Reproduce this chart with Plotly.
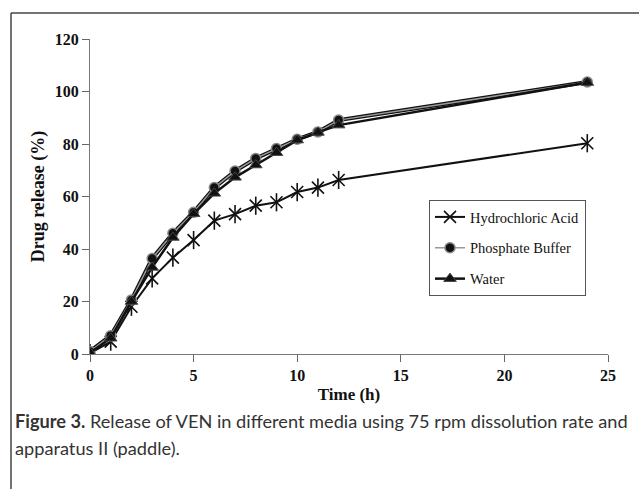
import plotly.graph_objects as go

time_h = [0, 1, 2, 3, 4, 5, 6, 7, 8, 9, 10, 11, 12, 24]
hcl = [0.3, 4.7, 18.0, 28.8, 36.7, 43.4, 50.8, 53.3, 56.5, 57.8, 61.7, 63.4, 66.3, 80.3]
phosphate = [1.0, 7.0, 20.6, 36.4, 46.0, 54.0, 63.4, 69.7, 74.5, 78.3, 81.8, 84.6, 89.1, 103.6]
water = [0.5, 6.0, 20.0, 33.0, 44.4, 53.4, 61.2, 67.3, 72.0, 76.7, 81.5, 84.4, 87.2, 103.4]

series_names = ["Hydrochloric Acid", "Phosphate Buffer", "Water"]
x_ticks = [0, 5, 10, 15, 20, 25]
y_ticks = [0, 20, 40, 60, 80, 100, 120]

serif = "Liberation Serif, Times New Roman, serif"
cap_font = "Lato, Open Sans, sans-serif"

fig = go.Figure()

fig.add_trace(go.Scatter(x=time_h, y=hcl, mode="lines+markers", name=series_names[0],
                         legendgroup="a",
                         line=dict(color="#111111", width=2),
                         marker=dict(symbol="x-thin-open", size=12, color="#111111",
                                     line=dict(color="#111111", width=1.6))))
# vertical stroke of the 6-arm asterisk
fig.add_trace(go.Scatter(x=time_h, y=hcl, mode="markers", showlegend=False, hoverinfo="skip",
                         marker=dict(symbol="line-ns-open", size=13, color="#111111",
                                     line=dict(color="#111111", width=1.6))))
# Phosphate outline (black under-line)
fig.add_trace(go.Scatter(x=time_h, y=phosphate, mode="lines",
                         line=dict(color="#111111", width=4), showlegend=False,
                         hoverinfo="skip"))
fig.add_trace(go.Scatter(x=time_h, y=phosphate, mode="lines+markers", name=series_names[1],
                         legendgroup="b",
                         line=dict(color="#9a9a9a", width=1.5),
                         marker=dict(symbol="circle", size=10, color="#111111",
                                     line=dict(color="#888888", width=1.5))))
fig.add_trace(go.Scatter(x=time_h, y=water, mode="lines+markers", name=series_names[2],
                         legendgroup="c",
                         line=dict(color="#111111", width=2.5),
                         marker=dict(symbol="triangle-up", size=11, color="#111111",
                                     line=dict(color="#444444", width=1))))

# frame positions (paper coords)
px0, px1, py0, py1 = 90, 608, 354, 39
def xp(px):
    return (px - px0) / (px1 - px0)
def yp(py):
    return (py0 - py) / (py0 - py1)

shapes = [
    dict(type="line", xref="paper", yref="paper", x0=xp(11), x1=xp(11), y0=yp(13), y1=yp(495),
         line=dict(color="#444444", width=1.5)),
    dict(type="line", xref="paper", yref="paper", x0=xp(11), x1=xp(645), y0=yp(13), y1=yp(13),
         line=dict(color="#444444", width=1.5)),
]

annotations = [
    dict(xref="paper", yref="paper", x=xp(13), y=yp(421), xanchor="left", yanchor="middle",
         showarrow=False,
         text="<b>Figure 3.</b> Release of VEN in different media using 75 rpm dissolution rate and",
         font=dict(family=cap_font, size=18.2, color="#333333")),
    dict(xref="paper", yref="paper", x=xp(13), y=yp(448), xanchor="left", yanchor="middle",
         showarrow=False,
         text="apparatus II (paddle).",
         font=dict(family=cap_font, size=18.2, color="#333333")),
]

fig.update_layout(
    width=639, height=489,
    margin=dict(l=px0, r=639 - px1, t=py1, b=489 - py0),
    paper_bgcolor="white", plot_bgcolor="white",
    showlegend=True,
    legend=dict(x=xp(429), y=yp(200), xanchor="left", yanchor="top",
                bordercolor="#555555", borderwidth=1, bgcolor="white",
                traceorder="grouped", tracegroupgap=9,
                font=dict(family=serif, size=14.5, color="#111111")),
    shapes=shapes,
    annotations=annotations,
    xaxis=dict(range=[0, 25], tickvals=x_ticks, ticks="outside", ticklen=7,
               tickcolor="#666666", showline=True, linecolor="#777777", linewidth=1,
               showgrid=False, zeroline=False,
               tickfont=dict(family=serif, size=16, color="#111111", weight="bold"),
               title=dict(text="<b>Time (h)</b>", standoff=4,
                          font=dict(family=serif, size=17, color="#111111"))),
    yaxis=dict(range=[0, 120], tickvals=y_ticks, ticks="outside", ticklen=7,
               tickcolor="#666666", showline=True, linecolor="#777777", linewidth=1,
               showgrid=False, zeroline=False,
               tickfont=dict(family=serif, size=16, color="#111111", weight="bold"),
               title=dict(text="<b>Drug release (%)</b>", standoff=5,
                          font=dict(family=serif, size=18, color="#111111"))),
)

fig.write_html("out.html", config={"displayModeBar": False},
               post_script="document.body.style.margin='0';document.body.style.overflow='hidden';")
